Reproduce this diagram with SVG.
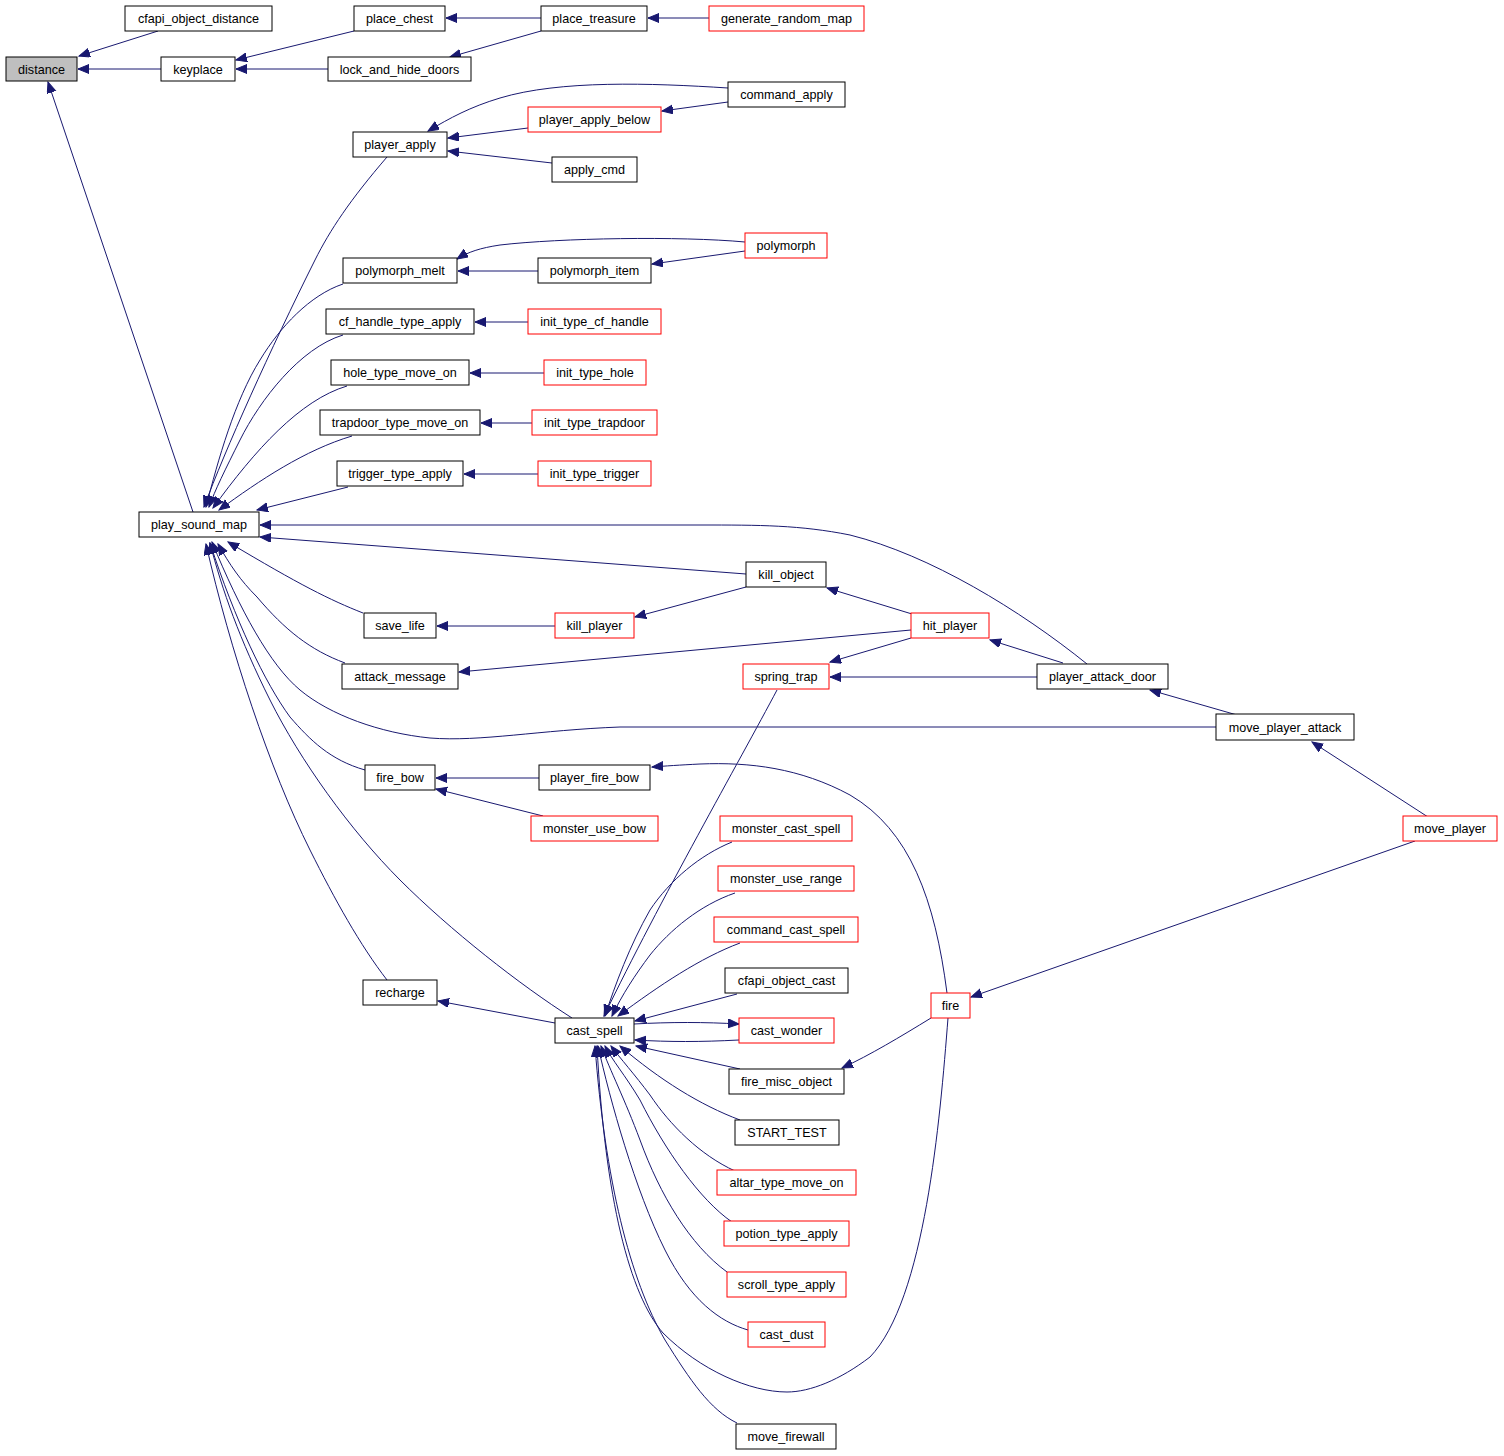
<svg xmlns="http://www.w3.org/2000/svg" width="1504" height="1456" viewBox="0 0 1504 1456">
<defs>
<marker id="a" markerWidth="12" markerHeight="10" refX="11" refY="4.5" orient="auto" markerUnits="userSpaceOnUse"><path d="M0,0 L11,4.5 L0,9 z" fill="#191970" stroke="#191970" stroke-width="1"/></marker>
</defs>
<style>
.n rect{fill:#fff;stroke:#000;stroke-width:1}
.r rect{stroke:#ff0000}
.g rect{fill:#bfbfbf}
.n text{font-family:"Liberation Sans",Arial,sans-serif;font-size:12.6px;text-anchor:middle;fill:#000}
#edges path{fill:none;stroke:#191970;stroke-width:1;marker-end:url(#a)}
</style>
<rect width="1504" height="1456" fill="#fff"/>
<g id="edges">
<path d="M158,31 L79,56"/>
<path d="M161,69 L78,69"/>
<path d="M193,512 L48,82"/>
<path d="M354,31 L236,60"/>
<path d="M328,69 L236,69"/>
<path d="M541,18 L446,18"/>
<path d="M541,31 L450,57"/>
<path d="M709,18 L648,18"/>
<path d="M728,88 C650,83 560,80 500,98 C470,107 450,118 428,131"/>
<path d="M728,102 L662,111"/>
<path d="M528,128 L448,138"/>
<path d="M552,163 L448,151"/>
<path d="M387,157 C350,200 330,230 315,260 C270,350 225,450 204,507"/>
<path d="M745,242 C680,236 560,238 500,245 C480,248 468,252 457,259"/>
<path d="M745,251 L652,264"/>
<path d="M538,271 L458,271"/>
<path d="M343,284 C310,295 280,327 260,360 C235,400 218,460 206,507"/>
<path d="M528,322 L475,322"/>
<path d="M343,335 C300,348 260,400 240,440 C225,470 215,490 209,507"/>
<path d="M544,373 L470,373"/>
<path d="M347,386 C300,400 255,450 213,508"/>
<path d="M532,423 L481,423"/>
<path d="M352,436 C305,450 260,480 219,510"/>
<path d="M538,474 L464,474"/>
<path d="M348,487 L257,510"/>
<path d="M1087,664 C1020,610 930,555 850,535 C800,525 760,525 700,525 L260,525"/>
<path d="M746,574 L260,537"/>
<path d="M363,613 C330,600 300,585 228,542"/>
<path d="M555,626 L437,626"/>
<path d="M746,587 L635,617"/>
<path d="M912,614 L827,588"/>
<path d="M911,630 L459,672"/>
<path d="M345,663 C310,650 285,630 257,597 C240,580 230,565 218,544"/>
<path d="M911,638 L830,662"/>
<path d="M1063,663 L990,640"/>
<path d="M1037,677 L830,677"/>
<path d="M1237,715 L1150,690"/>
<path d="M1216,727 L620,727 C540,730 480,742 430,738 C380,733 330,715 300,690 C270,665 240,610 212,542"/>
<path d="M1428,817 L1312,742"/>
<path d="M1415,841 L971,997"/>
<path d="M539,778 L436,778"/>
<path d="M543,816 L436,789"/>
<path d="M365,770 C330,760 310,740 290,717 C265,683 235,620 210,543"/>
<path d="M947,993 C935,900 910,830 850,795 C800,768 750,762 700,764 C680,765 665,766 652,767"/>
<path d="M931,1018 C900,1037 870,1055 842,1068"/>
<path d="M387,980 C360,945 335,900 310,850 C270,770 230,650 206,544"/>
<path d="M572,1018 C520,985 450,930 400,880 C350,830 300,760 270,700 C240,640 222,590 210,543"/>
<path d="M555,1023 L438,1001"/>
<path d="M777,690 C740,760 660,900 604,1016"/>
<path d="M732,842 C700,855 670,880 650,910 C630,945 615,985 605,1016"/>
<path d="M735,893 C700,905 670,930 650,955 C635,975 622,995 612,1016"/>
<path d="M740,943 C700,958 660,985 618,1016"/>
<path d="M737,994 L635,1021"/>
<path d="M634,1024 C670,1022 705,1022 739,1024"/>
<path d="M739,1040 C700,1042 670,1042 635,1040"/>
<path d="M740,1069 L636,1046"/>
<path d="M740,1120 C700,1105 660,1080 620,1046"/>
<path d="M735,1171 C700,1155 670,1125 650,1095 C635,1075 620,1058 611,1046"/>
<path d="M732,1222 C700,1200 665,1150 640,1100 C625,1075 612,1060 605,1046"/>
<path d="M727,1272 C690,1245 660,1195 640,1140 C625,1100 610,1070 601,1046"/>
<path d="M748,1330 C720,1322 690,1300 665,1250 C635,1190 610,1100 598,1046"/>
<path d="M737,1423 C710,1410 690,1380 665,1340 C630,1280 605,1180 595,1046"/>
<path d="M948,1018 C940,1120 925,1300 870,1357 C840,1380 810,1392 787,1392 C750,1392 700,1370 663,1333 C630,1295 605,1200 597,1046"/>
</g>
<g id="distance" class="n g"><rect x="6" y="57" width="71" height="24"/><text x="41.5" y="73.5">distance</text></g>
<g id="cfapi_object_distance" class="n"><rect x="125" y="6" width="147" height="25"/><text x="198.5" y="23">cfapi_object_distance</text></g>
<g id="keyplace" class="n"><rect x="161" y="57" width="74" height="24"/><text x="198" y="73.5">keyplace</text></g>
<g id="place_chest" class="n"><rect x="354" y="6" width="91" height="25"/><text x="399.5" y="23">place_chest</text></g>
<g id="lock_and_hide_doors" class="n"><rect x="328" y="57" width="143" height="24"/><text x="399.5" y="73.5">lock_and_hide_doors</text></g>
<g id="place_treasure" class="n"><rect x="541" y="6" width="106" height="25"/><text x="594" y="23">place_treasure</text></g>
<g id="generate_random_map" class="n r"><rect x="709" y="6" width="155" height="25"/><text x="786.5" y="23">generate_random_map</text></g>
<g id="command_apply" class="n"><rect x="728" y="82" width="117" height="25"/><text x="786.5" y="99">command_apply</text></g>
<g id="player_apply_below" class="n r"><rect x="528" y="107" width="133" height="25"/><text x="594.5" y="124">player_apply_below</text></g>
<g id="player_apply" class="n"><rect x="353" y="132" width="94" height="25"/><text x="400" y="149">player_apply</text></g>
<g id="apply_cmd" class="n"><rect x="552" y="157" width="85" height="25"/><text x="594.5" y="174">apply_cmd</text></g>
<g id="polymorph" class="n r"><rect x="745" y="233" width="82" height="25"/><text x="786" y="250">polymorph</text></g>
<g id="polymorph_melt" class="n"><rect x="343" y="258" width="114" height="25"/><text x="400" y="275">polymorph_melt</text></g>
<g id="polymorph_item" class="n"><rect x="538" y="258" width="113" height="25"/><text x="594.5" y="275">polymorph_item</text></g>
<g id="cf_handle_type_apply" class="n"><rect x="326" y="309" width="148" height="25"/><text x="400" y="326">cf_handle_type_apply</text></g>
<g id="init_type_cf_handle" class="n r"><rect x="528" y="309" width="133" height="25"/><text x="594.5" y="326">init_type_cf_handle</text></g>
<g id="hole_type_move_on" class="n"><rect x="331" y="360" width="138" height="25"/><text x="400" y="377">hole_type_move_on</text></g>
<g id="init_type_hole" class="n r"><rect x="544" y="360" width="102" height="25"/><text x="595" y="377">init_type_hole</text></g>
<g id="trapdoor_type_move_on" class="n"><rect x="320" y="410" width="160" height="25"/><text x="400" y="427">trapdoor_type_move_on</text></g>
<g id="init_type_trapdoor" class="n r"><rect x="532" y="410" width="125" height="25"/><text x="594.5" y="427">init_type_trapdoor</text></g>
<g id="trigger_type_apply" class="n"><rect x="337" y="461" width="126" height="25"/><text x="400" y="478">trigger_type_apply</text></g>
<g id="init_type_trigger" class="n r"><rect x="538" y="461" width="113" height="25"/><text x="594.5" y="478">init_type_trigger</text></g>
<g id="play_sound_map" class="n"><rect x="139" y="512" width="120" height="25"/><text x="199" y="529">play_sound_map</text></g>
<g id="kill_object" class="n"><rect x="746" y="562" width="80" height="25"/><text x="786" y="579">kill_object</text></g>
<g id="save_life" class="n"><rect x="364" y="613" width="72" height="25"/><text x="400" y="630">save_life</text></g>
<g id="kill_player" class="n r"><rect x="555" y="613" width="79" height="25"/><text x="594.5" y="630">kill_player</text></g>
<g id="hit_player" class="n r"><rect x="911" y="613" width="78" height="25"/><text x="950" y="630">hit_player</text></g>
<g id="attack_message" class="n"><rect x="342" y="664" width="116" height="25"/><text x="400" y="681">attack_message</text></g>
<g id="spring_trap" class="n r"><rect x="743" y="664" width="86" height="25"/><text x="786" y="681">spring_trap</text></g>
<g id="player_attack_door" class="n"><rect x="1037" y="664" width="131" height="25"/><text x="1102.5" y="681">player_attack_door</text></g>
<g id="move_player_attack" class="n"><rect x="1216" y="714" width="138" height="26"/><text x="1285" y="731.5">move_player_attack</text></g>
<g id="fire_bow" class="n"><rect x="365" y="765" width="70" height="25"/><text x="400" y="782">fire_bow</text></g>
<g id="player_fire_bow" class="n"><rect x="539" y="765" width="111" height="25"/><text x="594.5" y="782">player_fire_bow</text></g>
<g id="monster_use_bow" class="n r"><rect x="531" y="816" width="127" height="25"/><text x="594.5" y="833">monster_use_bow</text></g>
<g id="move_player" class="n r"><rect x="1403" y="816" width="94" height="25"/><text x="1450" y="833">move_player</text></g>
<g id="monster_cast_spell" class="n r"><rect x="720" y="816" width="132" height="25"/><text x="786" y="833">monster_cast_spell</text></g>
<g id="monster_use_range" class="n r"><rect x="718" y="866" width="136" height="25"/><text x="786" y="883">monster_use_range</text></g>
<g id="command_cast_spell" class="n r"><rect x="714" y="917" width="144" height="25"/><text x="786" y="934">command_cast_spell</text></g>
<g id="cfapi_object_cast" class="n"><rect x="725" y="968" width="123" height="25"/><text x="786.5" y="985">cfapi_object_cast</text></g>
<g id="recharge" class="n"><rect x="363" y="980" width="74" height="25"/><text x="400" y="997">recharge</text></g>
<g id="fire" class="n r"><rect x="931" y="993" width="39" height="25"/><text x="950.5" y="1010">fire</text></g>
<g id="cast_spell" class="n"><rect x="555" y="1018" width="79" height="25"/><text x="594.5" y="1035">cast_spell</text></g>
<g id="cast_wonder" class="n r"><rect x="739" y="1018" width="95" height="25"/><text x="786.5" y="1035">cast_wonder</text></g>
<g id="fire_misc_object" class="n"><rect x="729" y="1069" width="115" height="25"/><text x="786.5" y="1086">fire_misc_object</text></g>
<g id="START_TEST" class="n"><rect x="735" y="1120" width="104" height="25"/><text x="787" y="1137">START_TEST</text></g>
<g id="altar_type_move_on" class="n r"><rect x="717" y="1170" width="139" height="25"/><text x="786.5" y="1187">altar_type_move_on</text></g>
<g id="potion_type_apply" class="n r"><rect x="724" y="1221" width="125" height="25"/><text x="786.5" y="1238">potion_type_apply</text></g>
<g id="scroll_type_apply" class="n r"><rect x="727" y="1272" width="119" height="25"/><text x="786.5" y="1289">scroll_type_apply</text></g>
<g id="cast_dust" class="n r"><rect x="748" y="1322" width="77" height="25"/><text x="786.5" y="1339">cast_dust</text></g>
<g id="move_firewall" class="n"><rect x="736" y="1424" width="100" height="25"/><text x="786" y="1441">move_firewall</text></g>
</svg>
